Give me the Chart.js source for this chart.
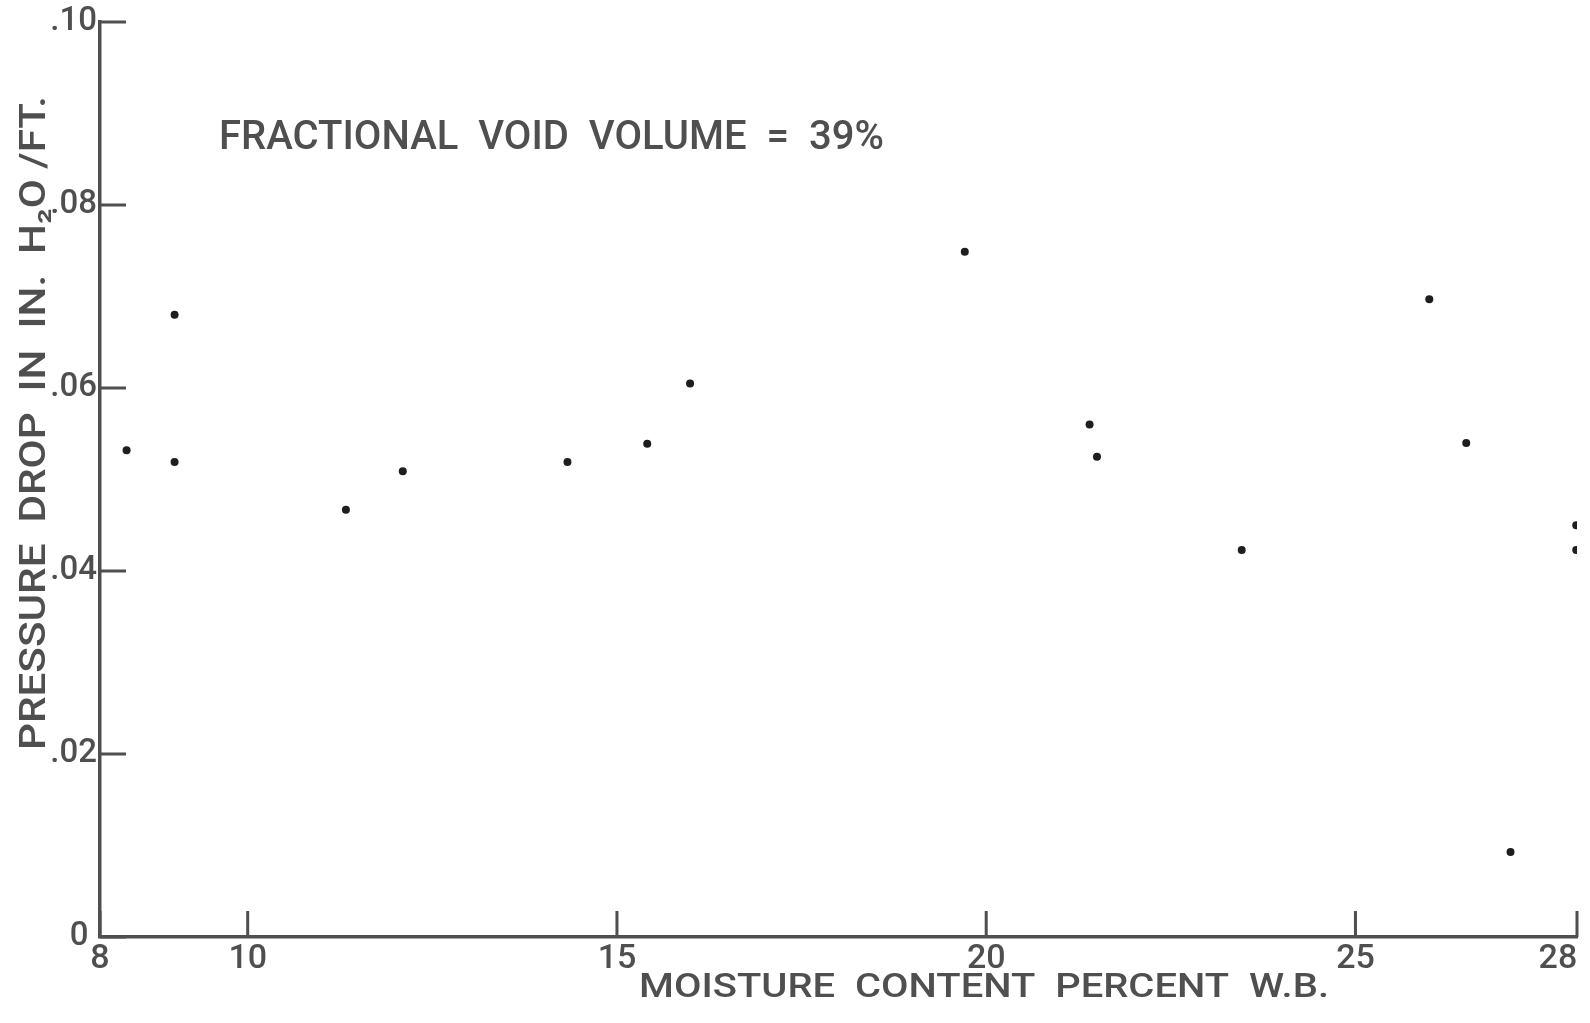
<!DOCTYPE html>
<html>
<head>
<meta charset="utf-8">
<script src="https://cdn.jsdelivr.net/npm/chart.js@4.4.0/dist/chart.umd.min.js"></script>
<style>
  html, body { margin: 0; padding: 0; background: #fff; }
  #wrap { width: 1590px; height: 1023px; }
</style>
</head>
<body>
<div id="wrap"><canvas id="myChart"></canvas></div>
<script>
// values
const moisture = [8.36, 9.01, 9.01, 11.33, 12.1, 14.33, 15.41, 15.99, 19.71, 21.4, 21.5, 23.46, 26.0, 26.5, 27.99, 27.99, 27.1];
const pressureDrop = [0.0532, 0.068, 0.0519, 0.0467, 0.0509, 0.0519, 0.0539, 0.0605, 0.0749, 0.056, 0.0525, 0.0423, 0.0697, 0.054, 0.045, 0.0423, 0.0093];

const xTicks = [8, 10, 15, 20, 25, 28];
const xTickLabels = ["8", "10", "15", "20", "25", "28\u2007\u2007"];
const yTicks = [0, 0.02, 0.04, 0.06, 0.08, 0.1];
const yTickLabels = ["0\u2005", ".02", ".04", ".06", ".08", ".10"];

const xTitle = "MOISTURE  CONTENT  PERCENT  W.B.";
const yTitle = "PRESSURE  DROP  IN  IN.  H\u2082O /FT.";
const note = "FRACTIONAL  VOID  VOLUME  =  39%";

const ink = "#4f4f4f";
const font = "Roboto";

// write a line of lettering stretched to a given length
function letter(ctx, text, x, y, length, size) {
  ctx.save();
  ctx.font = "500 " + size + "px " + font;
  ctx.textAlign = "left";
  ctx.textBaseline = "alphabetic";
  const w = ctx.measureText(text).width;
  ctx.translate(x, y);
  ctx.scale(length / w, 1);
  ctx.fillText(text, 0, 0);
  ctx.restore();
}

// short tick marks pointing into the plot, plus the lettering
const drafting = {
  id: "drafting",
  afterDraw(chart) {
    const { ctx, chartArea, scales } = chart;
    ctx.save();
    ctx.strokeStyle = ink;
    ctx.lineWidth = 3;
    ctx.beginPath();
    scales.x.ticks.forEach((t) => {
      const px = scales.x.getPixelForValue(t.value);
      ctx.moveTo(px, chartArea.bottom);
      ctx.lineTo(px, chartArea.bottom - 26);
    });
    scales.y.ticks.forEach((t) => {
      const py = scales.y.getPixelForValue(t.value);
      ctx.moveTo(chartArea.left, py);
      ctx.lineTo(chartArea.left + 26, py);
    });
    ctx.stroke();

    ctx.fillStyle = ink;
    letter(ctx, note, 219, 149, 665, 40);
    letter(ctx, xTitle, 639, 997, 690, 33);

    ctx.translate(45, 750);
    ctx.rotate(-Math.PI / 2);
    letter(ctx, yTitle, 0, 0, 654, 36);
    ctx.restore();
  },
};

new Chart(document.getElementById("myChart"), {
  type: "scatter",
  data: {
    datasets: [
      {
        label: "Pressure drop",
        data: moisture.map((m, i) => ({ x: m, y: pressureDrop[i] })),
        pointRadius: 4,
        pointBackgroundColor: "#1e1e1e",
        pointBorderWidth: 0,
      },
    ],
  },
  options: {
    responsive: true,
    maintainAspectRatio: false,
    animation: false,
    layout: { autoPadding: false, padding: { top: 22, right: 13, left: 0, bottom: 0 } },
    plugins: {
      legend: { display: false },
      tooltip: { enabled: false },
    },
    scales: {
      x: {
        type: "linear",
        min: 8,
        max: 28,
        afterBuildTicks: (scale) => {
          scale.ticks = xTicks.map((v) => ({ value: v }));
        },
        afterFit: (scale) => {
          scale.height = 86;
          scale.paddingLeft = 0;
          scale.paddingRight = 0;
        },
        grid: { display: true, drawOnChartArea: false, drawTicks: false },
        border: { display: true, color: ink, width: 3.5 },
        ticks: {
          color: ink,
          padding: 2,
          maxRotation: 0,
          font: { family: font, size: 34, weight: 500 },
          callback: (v) => xTickLabels[xTicks.indexOf(v)],
        },
      },
      y: {
        type: "linear",
        min: 0,
        max: 0.1,
        afterBuildTicks: (scale) => {
          scale.ticks = yTicks.map((v) => ({ value: v }));
        },
        afterFit: (scale) => {
          scale.width = 100;
          scale.paddingTop = 0;
          scale.paddingBottom = 0;
        },
        grid: { display: true, drawOnChartArea: false, drawTicks: false },
        border: { display: true, color: ink, width: 3.5 },
        ticks: {
          color: ink,
          padding: 3,
          font: { family: font, size: 33, weight: 500 },
          callback: (v) => yTickLabels[yTicks.findIndex((t) => Math.abs(t - v) < 1e-9)],
        },
      },
    },
  },
  plugins: [drafting],
});
</script>
</body>
</html>
